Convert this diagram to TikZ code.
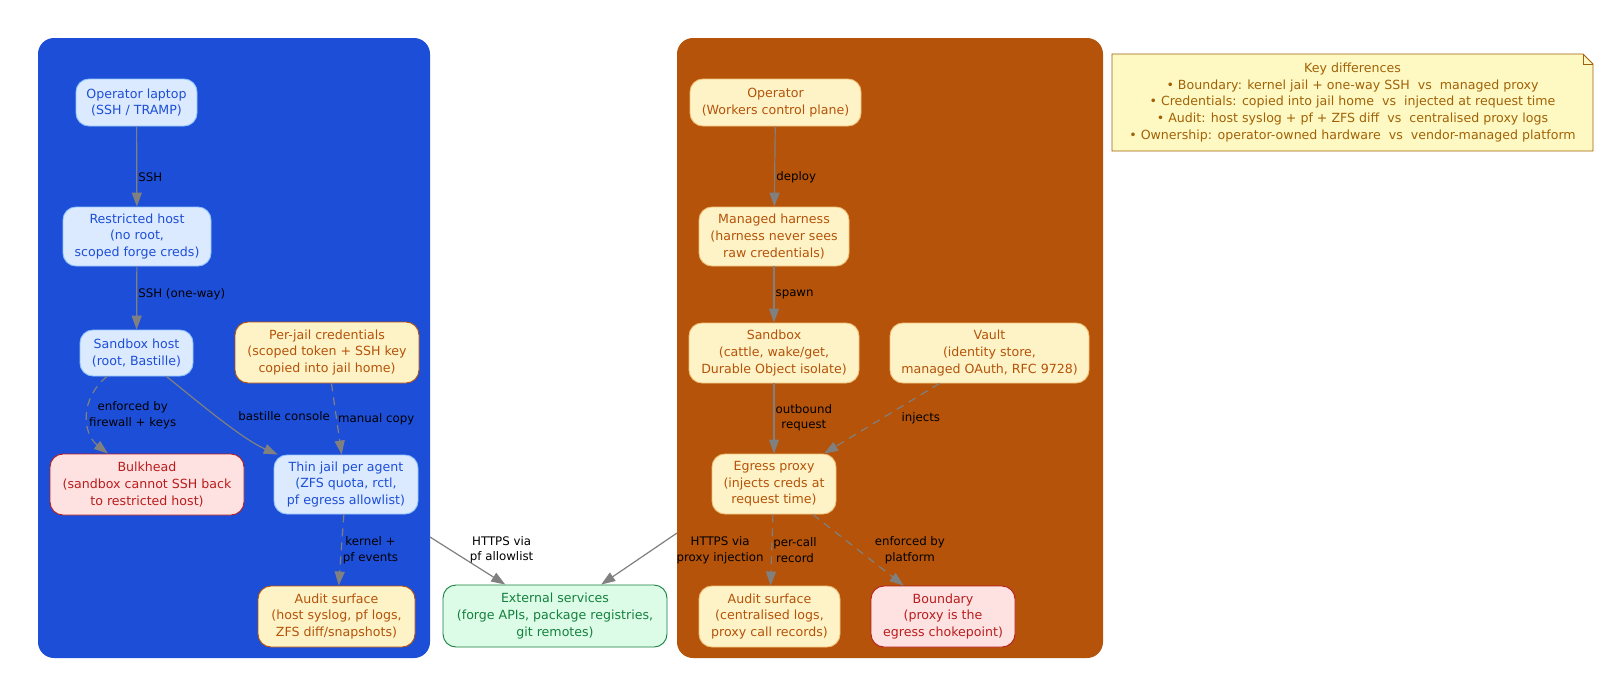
\documentclass[tikz,border=0pt]{standalone}
\usepackage{fontspec}
\setmainfont{DejaVu Sans}
\usetikzlibrary{arrows.meta}
\definecolor{clBlue}{HTML}{1D4ED8}
\definecolor{clOrange}{HTML}{B45309}
\definecolor{blueF}{HTML}{DBEAFE}
\definecolor{blueB}{HTML}{93C5FD}
\definecolor{blueT}{HTML}{1D4ED8}
\definecolor{amberF}{HTML}{FEF3C7}
\definecolor{amberB}{HTML}{B45309}
\definecolor{amberL}{HTML}{F2C27A}
\definecolor{amberT}{HTML}{B45309}
\definecolor{redF}{HTML}{FEE2E2}
\definecolor{redB}{HTML}{B91C1C}
\definecolor{greenF}{HTML}{DCFCE7}
\definecolor{greenB}{HTML}{15803D}
\definecolor{noteF}{HTML}{FEF9C3}
\definecolor{noteB}{HTML}{A16207}
\definecolor{edgeGray}{HTML}{808080}
\newcommand{\nfont}{\fontsize{12.6}{16.7}\selectfont}
\newcommand{\lfont}{\fontsize{11.8}{15.5}\selectfont}
\begin{document}
\begin{tikzpicture}[x=1pt,y=-1pt,
  every node/.style={align=center, inner sep=0pt},
  nbox/.style={font=\nfont, rounded corners=13pt, line width=0.9pt},
  bluenode/.style={nbox, draw=blueB, fill=blueF, text=blueT},
  ambernode/.style={nbox, draw=amberB, fill=amberF, text=amberT},
  orangenode/.style={nbox, draw=amberL, fill=amberF, text=amberT},
  rednode/.style={nbox, draw=redB, fill=redF, text=redB},
  greennode/.style={nbox, draw=greenB, fill=greenF, text=greenB},
  cluster/.style={rounded corners=16pt},
  notebox/.style={fill=noteF, draw=noteB, line width=0.9pt, line join=miter},
  lbl/.style={font=\lfont, text=black, align=center, inner sep=1pt},
  conn/.style={draw=edgeGray, line width=1.2pt, -{Triangle[length=14pt,width=10pt]}},
  dconn/.style={conn, dash pattern=on 8pt off 6pt},
  sz/.style 2 args={minimum width=#1pt, minimum height=#2pt}]

\useasboundingbox (0,0) rectangle (1622,697);
\fill[white] (0,0) rectangle (1622,697);

% clusters
\node[cluster, fill=clBlue, sz={392}{620}] (clL) at (234,348) {};
\node[cluster, fill=clOrange, sz={426}{620}] (clR) at (890,348) {};

% left cluster nodes
\node[bluenode, sz={121}{47}] (oplap) at (136.5,102.5) {Operator laptop\\(SSH / TRAMP)};
\node[bluenode, sz={148}{59}] (rhost) at (137,236.5) {Restricted host\\(no root,\\scoped forge creds)};
\node[bluenode, sz={113}{46}] (shost) at (136.5,353) {Sandbox host\\(root, Bastille)};
\node[ambernode, sz={184}{61}] (creds) at (327,352.5) {Per-jail credentials\\(scoped token + SSH key\\copied into jail home)};
\node[rednode, sz={194}{61}] (bulk) at (147,484.5) {Bulkhead\\(sandbox cannot SSH back\\to restricted host)};
\node[bluenode, sz={144}{59}] (jail) at (346,484.5) {Thin jail per agent\\(ZFS quota, rctl,\\pf egress allowlist)};
\node[ambernode, sz={157}{61}] (auditL) at (336.5,616.5) {Audit surface\\(host syslog, pf logs,\\ZFS diff/snapshots)};

% external
\node[greennode, sz={224}{62}] (ext) at (555,616) {External services\\(forge APIs, package registries,\\git remotes)};

% right cluster nodes
\node[orangenode, sz={171}{47}] (op) at (775.5,102.5) {Operator\\(Workers control plane)};
\node[orangenode, sz={150}{59}] (harn) at (774,236.5) {Managed harness\\(harness never sees\\raw credentials)};
\node[orangenode, sz={170}{60}] (sbox) at (774,353) {Sandbox\\(cattle, wake/get,\\Durable Object isolate)};
\node[orangenode, sz={199}{60}] (vault) at (989.5,353) {Vault\\(identity store,\\managed OAuth, RFC 9728)};
\node[orangenode, sz={124}{60}] (egress) at (774,484) {Egress proxy\\(injects creds at\\request time)};
\node[orangenode, sz={141}{61}] (auditR) at (769.5,616.5) {Audit surface\\(centralised logs,\\proxy call records)};
\node[rednode, sz={144}{61}] (bound) at (943,616.5) {Boundary\\(proxy is the\\egress chokepoint)};

% note (folded-corner shape, then its text)
\coordinate (nNW) at (1112,54);
\coordinate (nSE) at (1593,151);
\coordinate (nFA) at (1583,54);
\coordinate (nFB) at (1593,64);
\coordinate (nFC) at (1583,64);
\draw[notebox] (nNW) -- (nFA) -- (nFB) -- (nSE) -- (nNW |- nSE) -- cycle;
\draw[noteB, line width=0.9pt] (nFA) -- (nFC) -- (nFB);
\node[font=\nfont, text=noteB] (note) at (1352.5,102.5)
  {Key differences\\
   • Boundary: kernel jail + one-way SSH~~vs~~managed proxy\\
   • Credentials: copied into jail home~~vs~~injected at request time\\
   • Audit: host syslog + pf + ZFS diff~~vs~~centralised proxy logs\\
   • Ownership: operator-owned hardware~~vs~~vendor-managed platform};

% cluster boundary points for clipped edges
\coordinate (bL) at (430,537);
\coordinate (bR) at (677,533);

% left edges
\draw[conn] (oplap) -- node[lbl, pos=0.63, anchor=west] {SSH} (rhost);
\draw[conn] (rhost) -- node[lbl, pos=0.44, anchor=west] {SSH (one-way)} (shost);
\draw[dconn] (shost) .. controls (80,398) and (82,433) .. node[lbl, pos=0.5, anchor=west] {enforced by\\firewall + keys} (bulk);
\draw[conn] (shost) .. controls (190,395) and (240,438) .. node[lbl, pos=0.5, anchor=west, xshift=20pt] {bastille console} (jail);
\draw[dconn] (creds) -- node[lbl, pos=0.5, anchor=west] {manual copy} (jail);
\draw[dconn] (jail) -- node[lbl, pos=0.5, anchor=west] {kernel +\\pf events} (auditL);
\draw[conn] (bL) -- node[lbl, pos=0.27, anchor=west, xshift=18pt] {HTTPS via\\pf allowlist} (ext);

% right edges
\draw[conn] (op) -- node[lbl, pos=0.63, anchor=west] {deploy} (harn);
\draw[conn] (harn) -- node[lbl, pos=0.49, anchor=west] {spawn} (sbox);
\draw[conn] (sbox) -- node[lbl, pos=0.49, anchor=west] {outbound\\request} (egress);
\draw[dconn] (vault) -- node[lbl, pos=0.49, anchor=west, xshift=17pt] {injects} (egress);
\draw[dconn] (egress) -- node[lbl, pos=0.5, anchor=west] {per-call\\record} (auditR);
\draw[dconn] (egress) -- node[lbl, pos=0.5, anchor=west, xshift=15pt] {enforced by\\platform} (bound);
\draw[conn] (bR) -- node[lbl, pos=0.33, anchor=west, xshift=23pt] {HTTPS via\\proxy injection} (ext);
\end{tikzpicture}
\end{document}
